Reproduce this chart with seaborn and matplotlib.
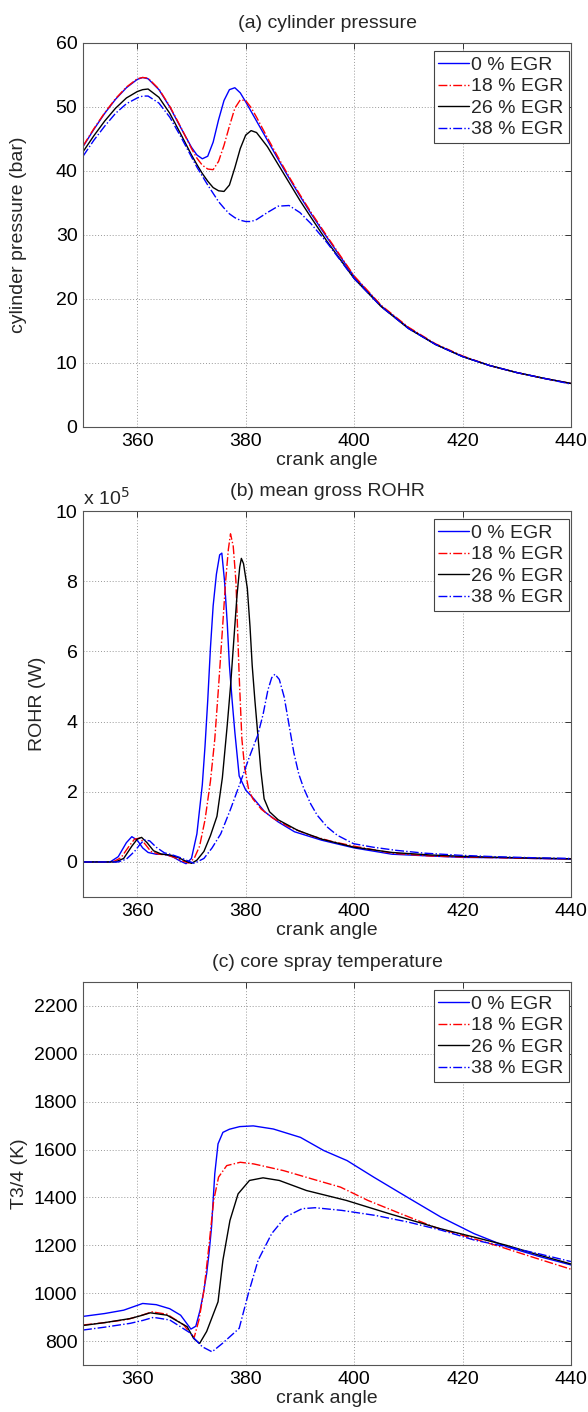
import matplotlib
matplotlib.use("Agg")
import matplotlib.pyplot as plt
import seaborn as sns

# (a) cylinder pressure (bar)
xa = [350, 352, 354, 356, 358, 360, 361, 362, 364, 366, 368, 370, 371, 372, 373, 374, 375,
      376, 377, 378, 379, 380, 381, 382, 384, 386, 388, 390, 392, 395, 400, 405, 410, 415,
      420, 425, 430, 435, 440]
pa_0 = [43.8, 46.5, 49.0, 51.2, 53.0, 54.3, 54.6, 54.4, 52.7, 50.0, 46.8, 43.7, 42.5, 41.9,
        42.3, 44.5, 48.0, 51.0, 52.7, 53.0, 52.2, 50.8, 49.3, 47.8, 44.8, 41.8, 38.9, 36.1,
        33.4, 29.6, 23.5, 18.9, 15.5, 12.9, 11.0, 9.6, 8.5, 7.6, 6.8]
pa_18 = [43.9, 46.6, 49.1, 51.3, 53.1, 54.4, 54.6, 54.5, 52.8, 50.1, 46.9, 43.5, 42.0, 40.9,
         40.3, 40.2, 41.5, 44.0, 47.0, 49.8, 51.1, 51.0, 49.9, 48.4, 45.2, 42.1, 39.1, 36.3,
         33.6, 29.8, 23.6, 19.0, 15.6, 13.0, 11.1, 9.6, 8.5, 7.6, 6.8]
pa_26 = [43.0, 45.5, 47.8, 49.8, 51.4, 52.4, 52.7, 52.8, 51.5, 49.0, 45.8, 42.5, 41.0, 39.6,
         38.4, 37.4, 36.9, 36.8, 37.8, 40.5, 43.5, 45.6, 46.3, 46.0, 43.8, 41.0, 38.2, 35.4,
         32.8, 29.0, 23.2, 18.8, 15.4, 12.9, 11.0, 9.6, 8.5, 7.6, 6.8]
pa_38 = [42.3, 44.8, 47.0, 49.0, 50.5, 51.4, 51.7, 51.7, 50.6, 48.4, 45.4, 42.2, 40.6, 39.2,
         37.8, 36.5, 35.2, 34.2, 33.3, 32.7, 32.3, 32.1, 32.1, 32.4, 33.5, 34.5, 34.6, 33.5,
         31.8, 28.8, 23.2, 18.8, 15.4, 12.9, 11.0, 9.6, 8.5, 7.6, 6.7]

# (b) mean gross ROHR (x 1e5 W)
xb_0 = [350, 355, 356.5, 358, 359, 360, 361, 362, 363.5, 365, 366.5, 368, 369, 370, 371,
        372, 372.5, 373, 373.5, 374, 374.6, 375.2, 375.6, 376.1, 376.6, 377, 377.5, 378,
        378.8, 380, 381.5, 383.5, 386, 389, 394, 400, 407, 414, 420, 427, 433, 440]
rb_0 = [0, 0, 0.15, 0.55, 0.72, 0.62, 0.40, 0.27, 0.22, 0.22, 0.15, 0.02, -0.05, 0.1, 0.8,
        2.2, 3.3, 4.6, 6.1, 7.3, 8.2, 8.75, 8.8, 8.0, 6.8, 5.6, 4.6, 3.7, 2.45, 2.05, 1.8,
        1.43, 1.14, 0.86, 0.62, 0.40, 0.22, 0.17, 0.13, 0.12, 0.10, 0.08]
xb_18 = [350, 355.5, 357, 358.5, 359.5, 360.5, 361.5, 362.5, 364, 365.5, 367, 368.5, 369.5,
         370.5, 371.5, 372.5, 373.5, 374.3, 375, 375.7, 376.3, 376.8, 377.2, 377.7, 378.2,
         378.8, 379.3, 379.8, 380.5, 381.3, 382.9, 385, 388, 392, 396, 400, 407, 414, 420,
         427, 433, 440]
rb_18 = [0, 0, 0.12, 0.45, 0.65, 0.68, 0.50, 0.30, 0.22, 0.20, 0.12, 0.02, -0.03, 0.1, 0.45,
         1.2, 2.3, 3.5, 5.0, 6.6, 8.0, 8.9, 9.35, 9.0, 8.0, 5.3, 3.5, 2.7, 2.1, 1.8, 1.5, 1.25,
         1.0, 0.75, 0.58, 0.45, 0.25, 0.17, 0.14, 0.12, 0.10, 0.09]
xb_26 = [350, 356, 357.5, 359, 360, 360.8, 361.8, 363, 364.5, 366, 367.5, 369, 370, 371,
         372.3, 373.5, 374.7, 375.7, 376.6, 377.2, 377.8, 378.4, 378.9, 379.2, 379.6, 380.3,
         380.8, 381.2, 381.7, 382.2, 382.8, 383.4, 384.4, 386, 389.6, 394, 400, 407, 414, 420,
         427, 433, 440]
rb_26 = [0, 0, 0.1, 0.45, 0.65, 0.70, 0.55, 0.32, 0.22, 0.20, 0.13, 0.02, -0.04, 0.05, 0.3,
         0.75, 1.3, 2.4, 3.9, 5.0, 6.3, 7.6, 8.4, 8.65, 8.5, 7.8, 6.7, 5.6, 4.6, 3.7, 2.6, 1.8,
         1.43, 1.2, 0.9, 0.65, 0.42, 0.27, 0.20, 0.16, 0.13, 0.11, 0.09]
xb_38 = [350, 356.5, 358, 359.5, 360.5, 361.3, 362.3, 363.5, 365, 366.5, 368, 369.5, 370.5,
         372.3, 373.8, 375.4, 377.2, 379.1, 380.7, 382.2, 383.2, 384.1, 384.8, 385.4, 386.2,
         387.1, 388, 388.9, 389.8, 390.7, 392, 393.2, 395, 396.9, 399.9, 403.5, 407.8, 413,
         419.5, 426, 433, 440]
rb_38 = [0, 0, 0.08, 0.3, 0.5, 0.63, 0.60, 0.42, 0.26, 0.20, 0.12, 0.02, -0.04, 0.1, 0.4,
         0.8, 1.5, 2.3, 3.0, 3.6, 4.2, 4.9, 5.25, 5.35, 5.2, 4.7, 3.9, 3.1, 2.5, 2.1, 1.65,
         1.33, 1.0, 0.76, 0.52, 0.42, 0.33, 0.25, 0.19, 0.15, 0.12, 0.10]

# (c) core spray temperature (K)
xc_0 = [350, 354, 357.5, 359.5, 361, 363.5, 366, 368, 369.9, 370.8, 371.6, 372.2, 372.8,
        373.3, 373.7, 374.3, 374.9, 375.8, 377, 378.9, 381.4, 385.1, 390.1, 394.4, 398.7,
        403.6, 409.8, 416, 422.1, 428.3, 434.5, 440]
tc_0 = [903, 915, 929, 945, 957, 952, 935, 908, 850, 862, 930, 1000, 1082, 1180, 1276, 1499,
        1624, 1672, 1685, 1696, 1699, 1686, 1651, 1596, 1554, 1485, 1401, 1318, 1249, 1193,
        1151, 1118]
xc_18 = [350, 354, 358.1, 360.5, 362.7, 365.5, 368.6, 369.5, 370.5, 371.4, 372.3, 373.2,
         374.1, 375, 376.5, 379, 381.5, 387, 393.2, 397.5, 402.5, 408.6, 414.8, 421, 427.1,
         433, 440]
tc_18 = [867, 877, 890, 905, 922, 912, 867, 840, 815, 890, 1012, 1193, 1388, 1485, 1533, 1547,
         1540, 1512, 1471, 1443, 1388, 1332, 1276, 1235, 1193, 1150, 1100]
xc_26 = [350, 354, 358.7, 360.5, 362.4, 365.5, 369.2, 370.4, 371.5, 372.8, 374.9, 375.8,
         377.1, 378.6, 380.7, 383.2, 386.2, 391.2, 398.5, 406.5, 415.8, 422, 428.1, 434, 440]
tc_26 = [865, 877, 894, 905, 918, 908, 860, 811, 790, 840, 964, 1138, 1304, 1415, 1471, 1482,
         1471, 1429, 1388, 1332, 1270, 1235, 1200, 1160, 1122]
xc_38 = [350, 354, 358.7, 361, 363, 366, 369.9, 370.2, 372, 373.8, 375.7, 378.8, 380.5,
         382.3, 384.8, 387.3, 390.4, 392.8, 397.7, 403.9, 410, 416.1, 422.3, 428.4, 434, 440]
tc_38 = [846, 858, 874, 886, 899, 888, 832, 818, 776, 755, 790, 853, 999, 1138, 1249, 1318,
         1353, 1357, 1346, 1325, 1297, 1263, 1221, 1193, 1165, 1132]

labels = ["0 % EGR", "18 % EGR", "26 % EGR", "38 % EGR"]
colors = ["#0000ff", "#ff0000", "#000000", "#0000ff"]
styles = ["-", "-.", "-", "-."]

sns.set_theme(style="white")
plt.rcParams["font.family"] = ["Liberation Sans", "DejaVu Sans"]
FS = 14

fig = plt.figure(figsize=(5.88, 14.12), dpi=100)

panels = [
    ([0.1412, 0.6976, 0.8299, 0.2720], [xa] * 4, [pa_0, pa_18, pa_26, pa_38],
     "(a) cylinder pressure", "cylinder pressure (bar)", (0, 60), range(0, 61, 10), -0.115),
    ([0.1412, 0.3647, 0.8299, 0.2734], [xb_0, xb_18, xb_26, xb_38], [rb_0, rb_18, rb_26, rb_38],
     "(b) mean gross ROHR", "ROHR (W)", (-1, 10), range(0, 11, 2), -0.075),
    ([0.1412, 0.0333, 0.8299, 0.2712], [xc_0, xc_18, xc_26, xc_38], [tc_0, tc_18, tc_26, tc_38],
     "(c) core spray temperature", "T3/4 (K)", (700, 2300), range(800, 2201, 200), -0.112),
]

for rect, xs, ys, title, ylab, ylim, yticks, ylab_x in panels:
    ax = fig.add_axes(rect)
    for x, y, lab, c, ls in zip(xs, ys, labels, colors, styles):
        sns.lineplot(x=x, y=y, ax=ax, color=c, linestyle=ls, linewidth=1.0, label=lab,
                     estimator=None, sort=False)
    ax.set_xlim(350, 440)
    ax.set_ylim(*ylim)
    ax.set_xticks([360, 380, 400, 420, 440])
    ax.set_yticks(list(yticks))
    ax.set_title(title, fontsize=FS, pad=11)
    ax.set_xlabel("crank angle", fontsize=FS, labelpad=2)
    ax.set_ylabel(ylab, fontsize=FS)
    ax.yaxis.set_label_coords(ylab_x, 0.5)
    ax.grid(True, linestyle=(0, (1, 2)), color="#999999", linewidth=0.7)
    ax.tick_params(direction="in", length=4, width=0.7, top=True, right=True,
                   labelsize=FS, pad=4, colors="#333333", labelcolor="black")
    for s in ax.spines.values():
        s.set_color("#555555")
        s.set_linewidth(0.8)
    leg = ax.legend(loc="upper right", bbox_to_anchor=(0.995, 0.978), borderaxespad=0,
                    fontsize=FS, frameon=True, fancybox=False, edgecolor="#444444",
                    framealpha=1, handlelength=1.55, handletextpad=0.15,
                    labelspacing=0.2, borderpad=0.25)
    leg.get_frame().set_linewidth(0.8)
    if title.startswith("(b)"):
        ax.text(0.0, 1.006, "x 10$^5$", transform=ax.transAxes, fontsize=FS,
                ha="left", va="bottom")

fig.savefig("out.png", dpi=100)
